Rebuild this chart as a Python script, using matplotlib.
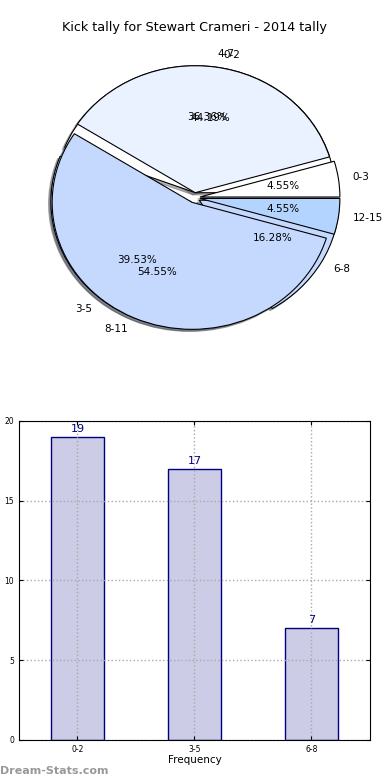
import numpy as np
import matplotlib
matplotlib.use("Agg")
import matplotlib.pyplot as plt

# kick ranges - season tally (two groupings shown on the same pie)
rangesA = ["0-2", "3-5", "6-8"]
countsA = [19, 17, 7]
rangesB = ["0-3", "4-7", "8-11", "12-15"]
countsB = [1, 8, 12, 1]

pieColours = ["#ffffff", "#eaf2ff", "#c5d9ff", "#b3d4ff"]

fig = plt.figure(figsize=(3.9, 7.8), dpi=100)

# pie
ax1 = fig.add_axes([0.05, 0.543, 0.897, 0.407])
wp = {"edgecolor": "black", "linewidth": 0.8}
sh = {"ox": -0.012, "oy": -0.012, "shade": 0.6}
ax1.pie(countsA, labels=rangesA, autopct="%.2f%%", explode=[0.04] * len(countsA),
        colors=pieColours[:len(countsA)], shadow=sh, wedgeprops=wp,
        textprops={"fontsize": 7.5})
ax1.pie(countsB, labels=rangesB, autopct="%.2f%%", explode=[0.04] * len(countsB),
        colors=pieColours[:len(countsB)], shadow=sh, wedgeprops=wp,
        textprops={"fontsize": 7.5})
ax1.set_aspect("auto")
ax1.set_xlim(-1.25, 1.25)
ax1.set_ylim(-1.25, 1.25)
ax1.set_title("Kick tally for Stewart Crameri - 2014 tally", fontsize=9.2)

# bars
ax2 = fig.add_axes([0.0487, 0.0513, 0.9, 0.409])
x = np.arange(len(rangesA))
bars = ax2.bar(x, countsA, 0.45, color="#ccccE6", edgecolor="#000080", linewidth=1)
for b, v in zip(bars, countsA):
    ax2.text(b.get_x() + b.get_width() / 2, v + 0.2, str(v), ha="center", va="bottom",
             color="#000080", fontsize=8)
ax2.set_xlim(-0.5, 2.5)
ax2.set_ylim(0, 20)
ax2.set_xticks(x)
ax2.set_xticklabels(rangesA)
ax2.set_yticks([0, 5, 10, 15, 20])
ax2.tick_params(direction="in", labelsize=5.5, top=True, right=True, length=3)
ax2.grid(True, linestyle=":", color="#a8a8a8", linewidth=1)
ax2.set_axisbelow(False)
for s in ax2.spines.values():
    s.set_zorder(5)
ax2.set_xlabel("Frequency", fontsize=7.5, labelpad=1)
ax2.set_ylabel("Stat Total Kicks", fontsize=7.5, labelpad=3)

fig.text(0.0, 0.008, "Dream-Stats.com", color="#999999", fontsize=8, fontweight="bold")

fig.savefig("out.png", dpi=100)
